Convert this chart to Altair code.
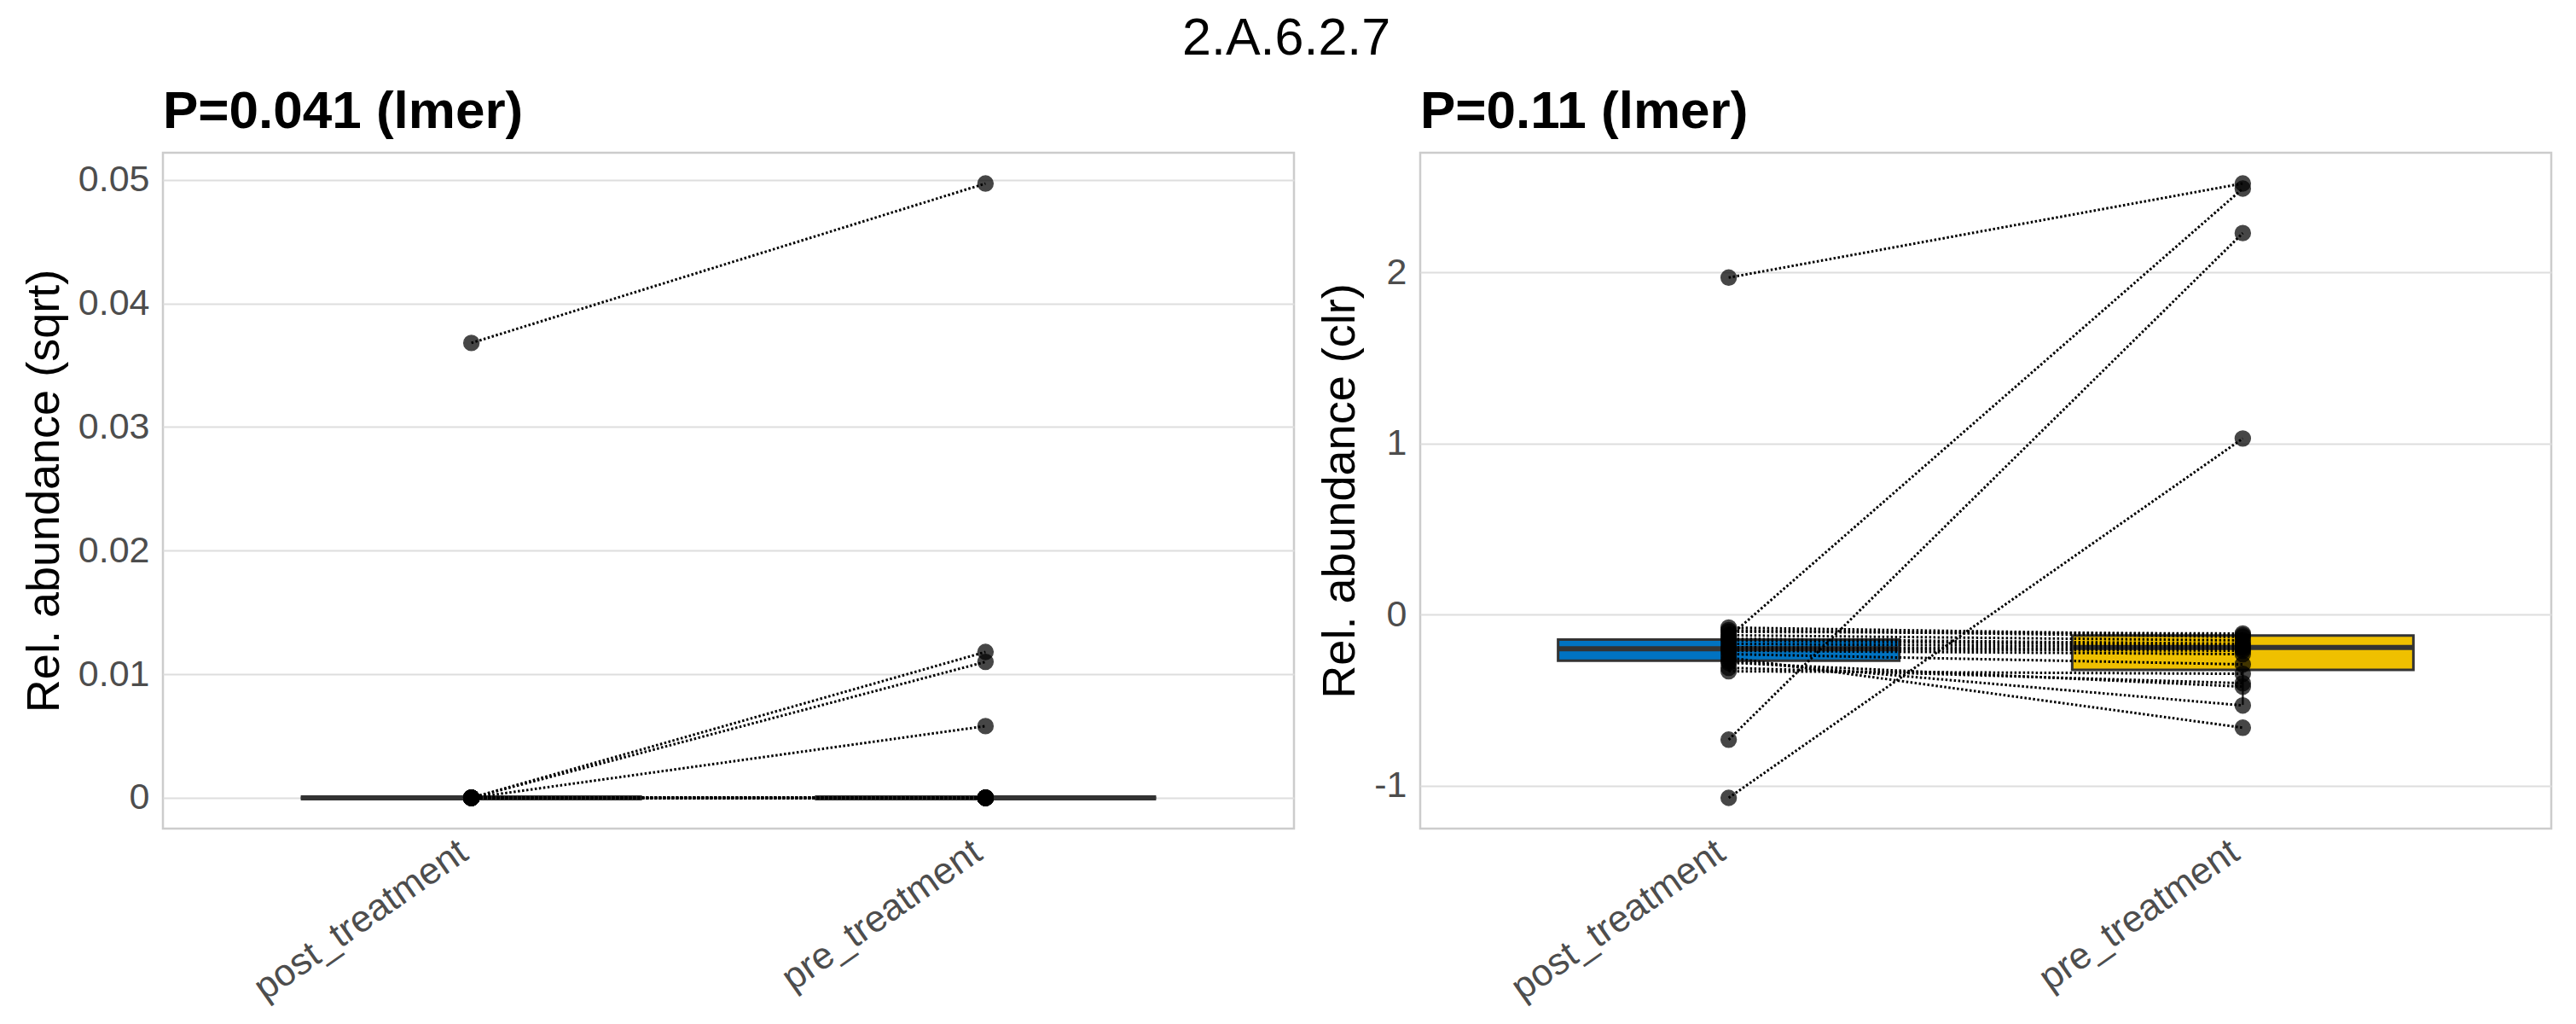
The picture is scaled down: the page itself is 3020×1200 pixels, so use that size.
import altair as alt
import pandas as pd

FONT = "Liberation Sans"

categories = ["post_treatment", "pre_treatment"]
box_colors = ["#0073C2", "#EFC000"]

# Left panel (sqrt), paired subjects
left_post = [0.0368, 0, 0, 0, 0, 0, 0, 0, 0, 0, 0, 0, 0, 0, 0, 0, 0, 0, 0, 0]
left_pre = [0.0497, 0.0118, 0.0110, 0.0058, 0, 0, 0, 0, 0, 0, 0, 0, 0, 0, 0, 0, 0, 0, 0, 0]

# Right panel (clr), paired subjects
right_post = [1.97, -0.13, -0.73, -1.07, -0.075, -0.09, -0.10, -0.12, -0.14, -0.15,
              -0.17, -0.19, -0.20, -0.21, -0.23, -0.25, -0.27, -0.28, -0.31, -0.33]
right_pre = [2.52, 2.49, 2.23, 1.03, -0.12, -0.13, -0.11, -0.15, -0.17, -0.18,
             -0.19, -0.20, -0.21, -0.23, -0.29, -0.66, -0.53, -0.42, -0.40, -0.345]

# Box statistics (post, pre)
left_lower = [0, 0]
left_q1 = [0, 0]
left_median = [0, 0]
left_q3 = [0, 0]
left_upper = [0, 0]

right_lower = [-0.332, -0.527]
right_q1 = [-0.269, -0.322]
right_median = [-0.199, -0.191]
right_q3 = [-0.145, -0.121]
right_upper = [-0.075, -0.116]

left_ticks = [0, 0.01, 0.02, 0.03, 0.04, 0.05]
right_ticks = [-1, 0, 1, 2]
left_domain = [-0.00249, 0.05219]
right_domain = [-1.2495, 2.6995]


def long_df(post, pre):
    rows = []
    for i, v in enumerate(post):
        rows.append({"subject": i, "group": categories[0], "value": v})
    for i, v in enumerate(pre):
        rows.append({"subject": i, "group": categories[1], "value": v})
    return pd.DataFrame(rows)


def box_df(lower, q1, med, q3, upper):
    return pd.DataFrame({"group": categories, "lower": lower, "q1": q1,
                         "median": med, "q3": q3, "upper": upper})


def panel(points, boxes, domain, ticks, title, ytitle):
    x = alt.X("group:N",
              scale=alt.Scale(type="point", domain=categories, padding=0.6),
              axis=alt.Axis(title=None, labelAngle=-35, labelAlign="right",
                            labelBaseline="top", labelPadding=5, labelOffset=-22,
                            labelLimit=1000, labelFontSize=44, grid=False))
    yscale = alt.Scale(domain=domain, nice=False, zero=False)
    yaxis = alt.Axis(title=ytitle, values=ticks, labelExpr="'' + datum.value",
                     labelPadding=16, titlePadding=12)
    base_b = alt.Chart(boxes)
    whisk = base_b.mark_rule(color="#333333", strokeWidth=2.5).encode(
        x=x, y=alt.Y("lower:Q", scale=yscale, axis=yaxis), y2="upper:Q")
    box = base_b.mark_bar(width=400, stroke="#333333", strokeWidth=3).encode(
        x=x, y=alt.Y("q1:Q", scale=yscale), y2="q3:Q",
        fill=alt.Fill("group:N", scale=alt.Scale(domain=categories, range=box_colors),
                      legend=None))
    med = base_b.mark_tick(size=400, thickness=6, color="#333333", opacity=1).encode(
        x=x, y=alt.Y("median:Q", scale=yscale))
    base_p = alt.Chart(points)
    pts = base_p.mark_circle(size=320, color="black", opacity=0.72,
                             stroke="black", strokeWidth=1.5).encode(
        x=x, y=alt.Y("value:Q", scale=yscale))
    lines = base_p.mark_line(color="black", strokeWidth=3, strokeDash=[2.5, 2.5]).encode(
        x=x, y=alt.Y("value:Q", scale=yscale), detail="subject:N")
    return alt.layer(whisk, box, med, pts, lines).properties(
        width=1326, height=792,
        title=alt.TitleParams(title, anchor="start", frame="group", fontSize=62,
                              fontWeight="bold", font=FONT, color="black", offset=16))


left = panel(long_df(left_post, left_pre),
             box_df(left_lower, left_q1, left_median, left_q3, left_upper),
             left_domain, left_ticks, "P=0.041 (lmer)", "Rel. abundance (sqrt)")
right = panel(long_df(right_post, right_pre),
              box_df(right_lower, right_q1, right_median, right_q3, right_upper),
              right_domain, right_ticks, "P=0.11 (lmer)", "Rel. abundance (clr)")

chart = alt.hconcat(left, right, spacing=24).resolve_scale(
    y="independent", fill="independent").properties(
    title=alt.TitleParams("2.A.6.2.7", anchor="middle", fontSize=61,
                          fontWeight="normal", font=FONT, color="black", offset=22),
    padding={"left": 16, "top": 6, "right": 5, "bottom": 5},
    background="white",
).configure_view(stroke="#CCCCCC", strokeWidth=2.5).configure_axis(
    gridColor="#DEDEDE", gridWidth=2, domain=False, ticks=False,
    labelColor="#4D4D4D", labelFont=FONT, labelFontSize=43,
    titleColor="black", titleFont=FONT, titleFontSize=54, titleFontWeight="normal",
)

chart.save("out.html", embed_options={"renderer": "svg", "actions": False})
